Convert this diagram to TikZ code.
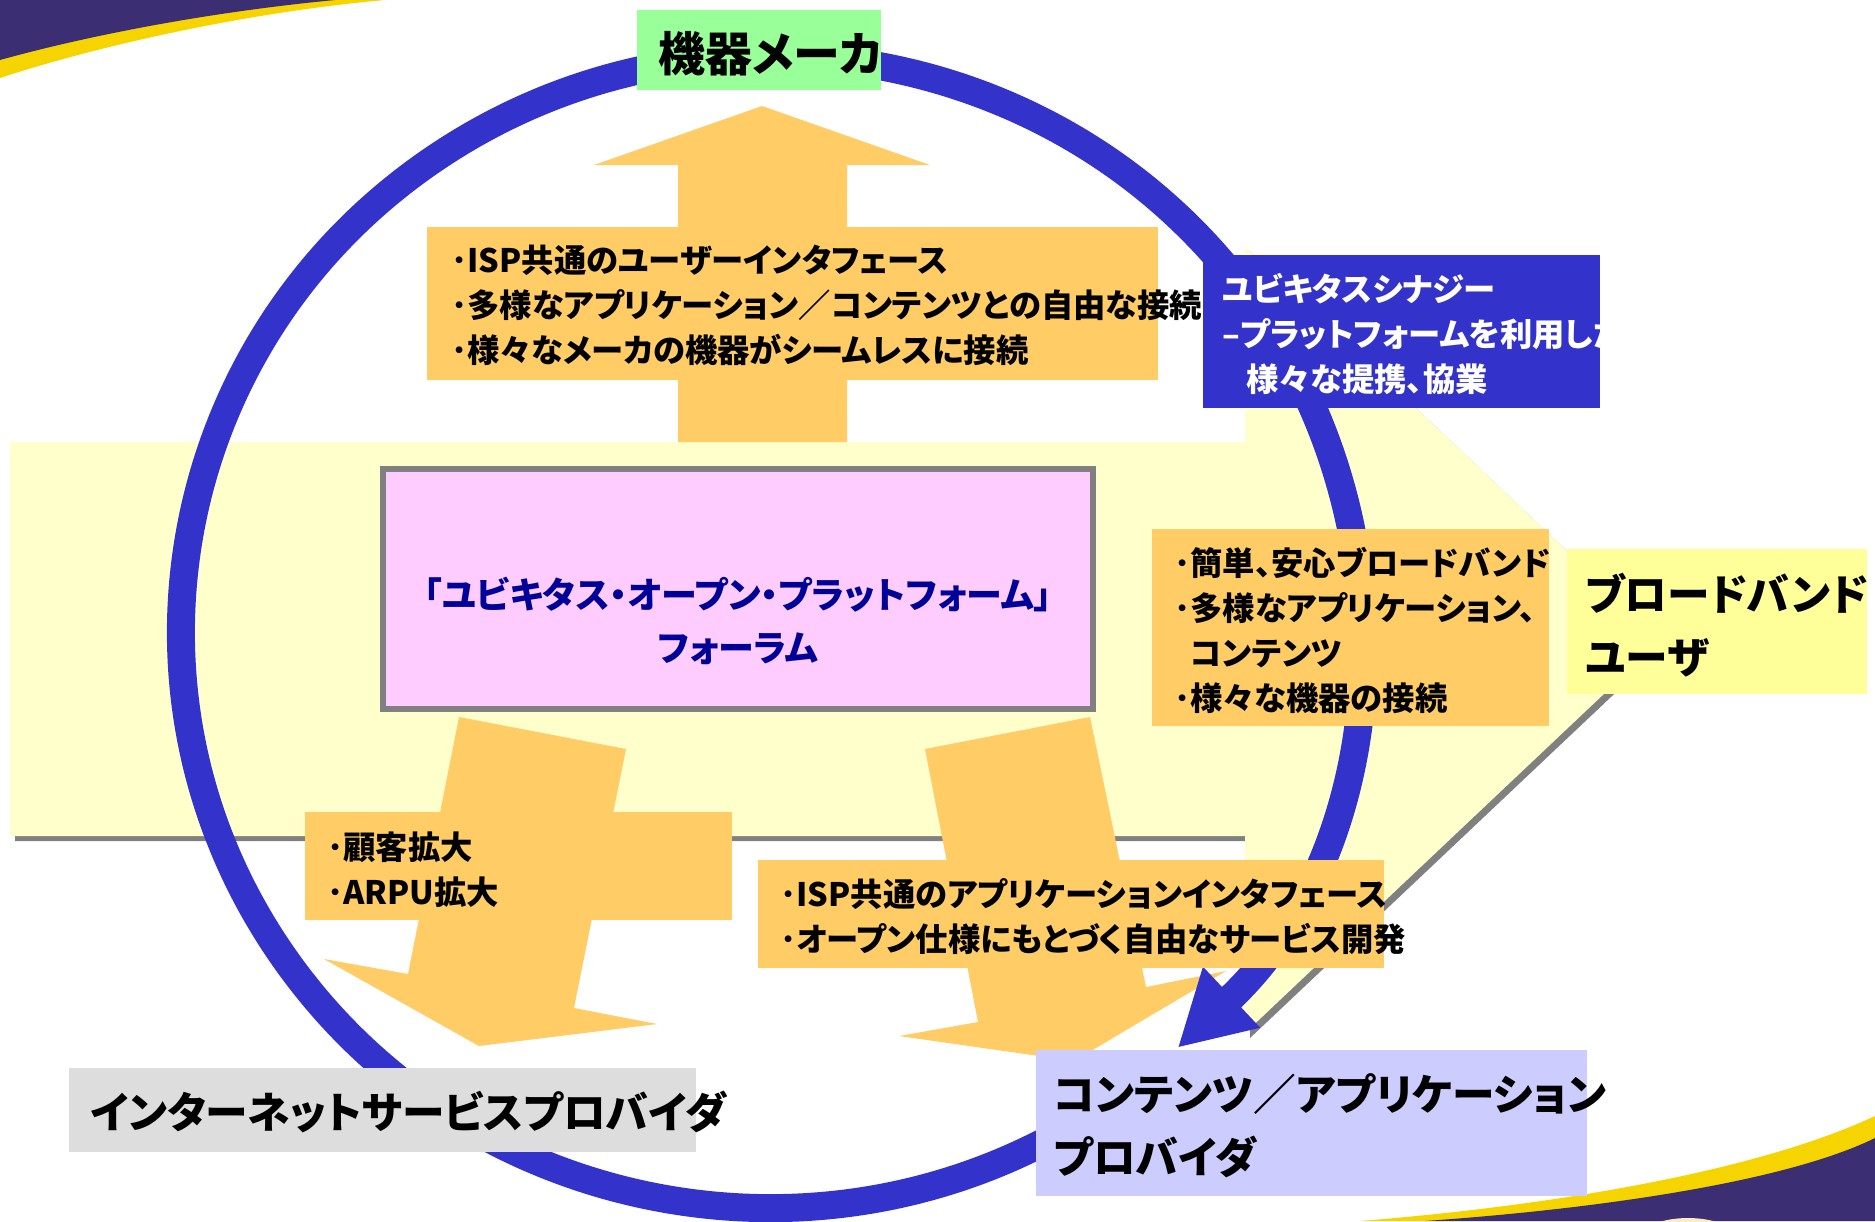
\documentclass[tikz,border=0pt]{standalone}
\usepackage{fontspec}
\newfontfamily\jpfont[RawFeature=+palt]{Noto Sans CJK JP}
\usetikzlibrary{arrows.meta}

\definecolor{ringblue}{HTML}{3333CC}
\definecolor{boxorange}{HTML}{FFCC66}
\definecolor{palebg}{HTML}{FFFFCC}
\definecolor{shadowgray}{HTML}{808080}
\definecolor{makergreen}{HTML}{99FF99}
\definecolor{forumpink}{HTML}{FFCCFF}
\definecolor{useryellow}{HTML}{FFFF99}
\definecolor{capblue}{HTML}{CCCCFF}
\definecolor{ispgray}{HTML}{DDDDDD}
\definecolor{forumnavy}{HTML}{000099}
\definecolor{swooshpurple}{HTML}{3B2E72}
\definecolor{swooshyellow}{HTML}{F5D400}
\definecolor{swooshcream}{HTML}{FCEBC8}

\tikzset{
    smalltxt/.style={font=\jpfont\bfseries\fontsize{18.4pt}{25.6pt}\selectfont, inner sep=0pt, align=left, anchor=west},
    bigtxt/.style={font=\jpfont\bfseries\fontsize{24.3pt}{35.8pt}\selectfont, inner sep=0pt, align=left, anchor=west},
    forumtxt/.style={font=\jpfont\bfseries\fontsize{20.5pt}{30.2pt}\selectfont, inner sep=0pt, align=center, text=forumnavy}
}

\begin{document}
\begin{tikzpicture}[x=0.02cm, y=-0.02cm]
    \useasboundingbox (0,0) rectangle (1875,1221);
    \fill[white] (0,0) rectangle (1875,1221);

    % corner swooshes
    \fill[swooshyellow] (0,0) -- (385,0) .. controls (250,12) and (100,45) .. (0,78) -- cycle;
    \fill[swooshpurple] (0,0) -- (335,0) .. controls (210,12) and (90,35) .. (0,60) -- cycle;
    \fill[swooshyellow] (1360,1221) .. controls (1560,1205) and (1760,1170) .. (1875,1116) -- (1875,1221) -- cycle;
    \fill[swooshpurple] (1425,1221) .. controls (1610,1208) and (1790,1180) .. (1875,1138) -- (1875,1221) -- cycle;
    \fill[swooshcream] (1688,1245) ellipse [x radius=55, y radius=27];

    % big pale arrow towards the users
    \fill[shadowgray, shift={(5,5)}] (10,442) -- (1245,442) -- (1245,246) -- (1661,640) -- (1245,1033) -- (1245,836) -- (10,836) -- cycle;
    \fill[palebg] (10,442) -- (1245,442) -- (1245,246) -- (1661,640) -- (1245,1033) -- (1245,836) -- (10,836) -- cycle;

    % orange block arrows
    \fill[boxorange] (678,442) -- (678,165) -- (594,165) -- (762,106) -- (930,165) -- (847,165) -- (847,442) -- cycle;
    \fill[boxorange] (459,717) -- (626,749) -- (574,1008) -- (657,1024) -- (479,1046) -- (324,959) -- (408,974) -- cycle;
    \fill[boxorange] (925,749) -- (1090,717) -- (1146,987) -- (1226,971) -- (1074,1061) -- (899,1036) -- (978,1022) -- cycle;

    % the cycle
    \coordinate (ringc) at (770,632);
    \draw[ringblue, line width=0.56cm, -{Triangle[length=1.48cm, width=1.56cm]}] (1107.8,1103.9) arc[start angle=55, end angle=406.2, x radius=589, y radius=576];

    % boxes
    \fill[boxorange] (427,227) rectangle (1158,380);
    \fill[boxorange] (1152,529) rectangle (1549,726);
    \fill[boxorange] (305,812) rectangle (732,920);
    \fill[boxorange] (758,860) rectangle (1384,968);
    \fill[ringblue] (1203,255) rectangle (1600,408);
    \draw[shadowgray, fill=forumpink, line width=0.12cm] (383,469) rectangle (1093,709);
    \fill[makergreen] (637,10) rectangle (881,90);
    \fill[useryellow] (1567,549) rectangle (1867,694);
    \fill[capblue] (1036,1050) rectangle (1587,1196);
    \fill[ispgray] (69,1068) rectangle (696,1152);

    \node[bigtxt, font=\jpfont\bfseries\fontsize{26.7pt}{35.8pt}\selectfont] (maker) at (658,54) {機器メーカ};
    \node[smalltxt] (makerpts) at (451,305) {･ISP共通のユーザーインタフェース\\･多様なアプリケーション／コンテンツとの自由な接続\\･様々なメーカの機器がシームレスに接続};
    \node[smalltxt, text=white] (synergy) at (1222,334) {ユビキタスシナジー\\–プラットフォームを利用した\\\hspace*{0.75em}様々な提携、協業};
    \node[forumtxt] (forum) at (738,621) {「ユビキタス・オープン・プラットフォーム」\\フォーラム};
    \node[smalltxt] (userpts) at (1174,630) {･簡単、安心ブロードバンド\\･多様なアプリケーション、\\\phantom{･}コンテンツ\\･様々な機器の接続};
    \node[bigtxt] (user) at (1585,625) {ブロードバンド\\ユーザ};
    \node[smalltxt] (isppts) at (327,870) {･顧客拡大\\･ARPU拡大};
    \node[smalltxt] (cappts) at (780,917) {･ISP共通のアプリケーションインタフェース\\･オープン仕様にもとづく自由なサービス開発};
    \node[bigtxt] (isp) at (90,1112) {インターネットサービスプロバイダ};
    \node[bigtxt] (cap) at (1053,1126) {コンテンツ／アプリケーション\\プロバイダ};
\end{tikzpicture}
\end{document}
